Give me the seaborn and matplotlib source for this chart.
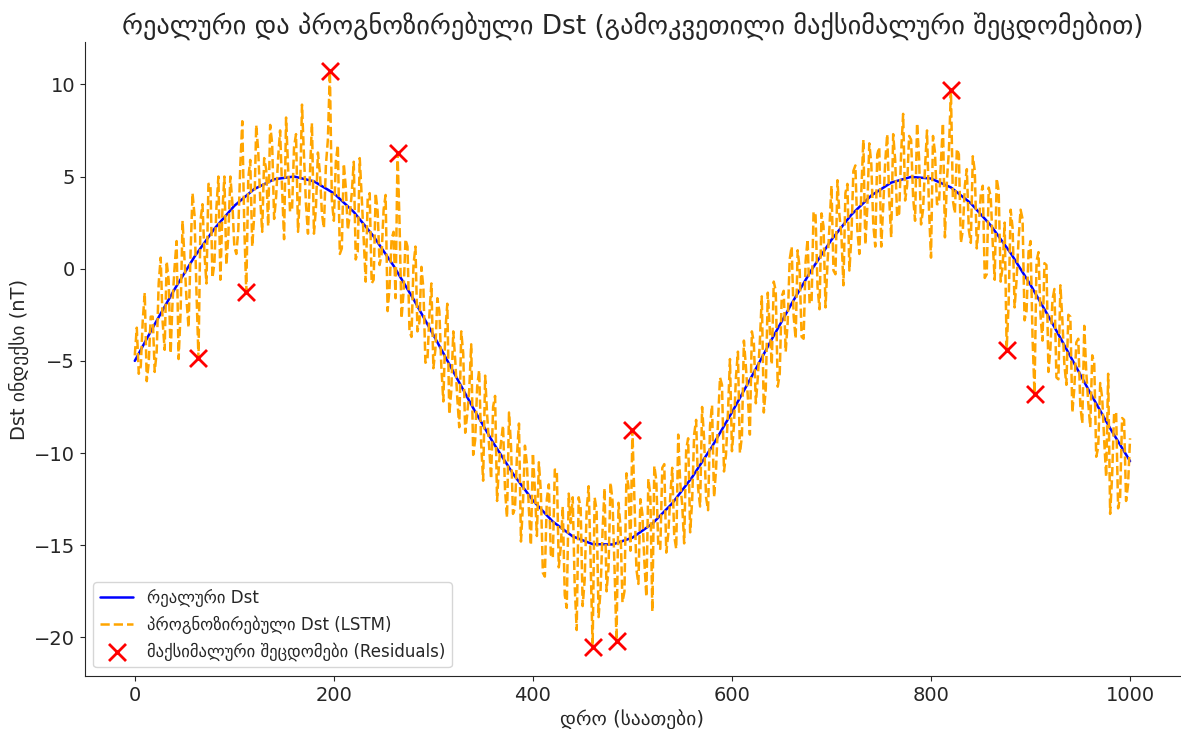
import numpy as np
import pandas as pd
import matplotlib.pyplot as plt
import seaborn as sns

# real Dst, read every 20 hours
hours_real = np.arange(0, 1001, 20)
dst_real = [-5.0, -3.01, -1.11, 0.65, 2.17, 3.41, 4.32, 4.85, 5.0, 4.74,
            4.09, 3.08, 1.75, 0.16, -1.65, -3.59, -5.58, -7.56, -9.43, -11.12,
            -12.57, -13.72, -14.52, -14.94, -14.96, -14.59, -13.83, -12.73, -11.31, -9.65,
            -7.79, -5.83, -3.83, -1.89, -0.06, 1.57, 2.93, 3.97, 4.67, 4.98,
            4.89, 4.41, 3.55, 2.35, 0.85, -0.88, -2.77, -4.75, -6.74, -8.66,
            -10.44]

# LSTM prediction, read every 2 hours (one row = 20 hours)
hours_pred = np.arange(0, 1001, 2)
dst_pred = [
    -4.7, -3.2, -5.7, -5.3, -2.8, -1.3, -6.1, -5.1, -2.6, -2.6,
    -5.6, -4.5, -0.8, 0.6, -2.9, -4.4, 0.4, -0.6, -4.6, -1.7,
    0.1, 1.5, -4.9, -2.4, 2.6, 0.5, -1.7, -3.2, 0.8, 4.1,
    2.9, -1.3, -4.87, 2.6, 3.5, 0.8, -0.8, 4.6, 4.6, -0.5,
    0.3, 3.3, 5.0, -0.6, 3.1, 5.0, 0.2, 1.8, 5.0, 3.6,
    1.2, 0.8, 2.1, 5.6, 8.0, 2.3, -1.25, 4.9, 5.9, 1.2,
    2.9, 7.8, 6.4, 3.8, 2.0, 6.0, 5.4, 2.3, 7.8, 6.8,
    2.7, 3.9, 6.0, 7.5, 4.3, 1.6, 8.2, 5.5, 3.1, 3.2,
    6.6, 7.3, 2.0, 4.1, 8.9, 6.1, 3.5, 1.9, 5.2, 7.9,
    1.9, 3.3, 6.3, 5.2, 3.0, 2.2, 5.6, 7.0, 10.72, 3.7,
    2.6, 5.8, 6.7, 0.8, 1.1, 5.7, 4.4, 2.1, 2.9, 4.1,
    5.8, 0.5, 0.9, 6.0, 3.9, 1.6, -0.7, 3.8, 4.1, -0.8,
    -0.6, 4.1, 3.1, 0.2, 0.8, 3.2, 4.0, -2.3, -1.0, 1.6,
    2.0, -1.6, 6.28, 2.5, -2.7, -1.3, 1.6, 1.2, -3.4, -3.7,
    0.2, 1.2, -3.4, -2.9, 0.1, -1.1, -5.1, -5.0, -2.5, -0.8,
    -5.4, -4.4, -1.6, -2.3, -5.3, -7.2, -3.4, -1.9, -7.9, -6.6,
    -3.4, -5.0, -7.0, -8.6, -3.4, -4.6, -8.9, -7.9, -6.6, -4.1,
    -10.1, -9.3, -6.4, -5.5, -9.5, -11.5, -5.8, -7.9, -9.6, -11.4,
    -7.5, -6.9, -12.6, -10.5, -9.4, -8.5, -12.0, -13.5, -7.8, -9.6,
    -13.3, -13.0, -10.1, -8.4, -14.8, -12.8, -9.6, -10.6, -13.1, -15.0,
    -10.0, -12.0, -14.5, -10.5, -12.1, -16.5, -16.7, -12.5, -11.7, -15.5,
    -15.7, -10.9, -10.9, -16.2, -15.1, -12.9, -17.7, -18.4, -12.2, -13.8,
    -12.4, -17.2, -19.6, -12.4, -13.0, -18.3, -16.9, -13.1, -11.8, -15.9,
    -20.52, -12.4, -13.1, -18.9, -17.4, -14.2, -11.9, -17.5, -16.2, -11.6,
    -12.6, -16.2, -20.2, -12.7, -14.0, -18.1, -17.5, -11.1, -11.8, -15.3,
    -8.77, -12.5, -16.3, -17.1, -12.5, -13.3, -15.9, -17.8, -11.4, -12.3,
    -18.6, -10.7, -11.5, -15.1, -15.2, -10.8, -10.6, -15.4, -14.4, -12.4,
    -10.8, -14.5, -15.2, -9.0, -11.6, -12.8, -14.9, -9.8, -9.2, -14.3,
    -12.6, -9.0, -8.2, -11.9, -12.9, -7.5, -9.2, -12.4, -13.1, -8.5,
    -7.4, -12.4, -10.9, -8.3, -5.9, -6.3, -11.0, -10.1, -7.8, -4.9,
    -9.9, -8.5, -5.9, -4.5, -10.0, -9.1, -3.9, -5.3, -7.0, -9.0,
    -3.4, -4.0, -7.3, -5.9, -4.0, -1.5, -7.8, -6.5, -1.3, -3.2,
    -5.2, -0.7, -1.2, -6.4, -5.7, -1.5, -1.2, -4.5, -2.9, 0.5,
    1.2, -2.6, -3.8, 1.0, 0.0, -3.7, -3.8, 0.4, 1.6, -1.9,
    -1.8, 3.1, 2.9, -1.0, -2.2, 3.0, 2.3, -2.1, 0.3, 2.3,
    4.5, -0.1, -0.3, 4.8, 2.9, 1.8, -0.9, 4.1, 4.6, -0.1,
    1.7, 5.3, 5.6, 2.1, 0.8, 4.2, 7.0, 1.3, 3.3, 6.8,
    5.7, 2.4, 1.2, 6.2, 6.6, 1.2, 3.4, 5.8, 7.3, 3.8,
    1.7, 7.3, 5.9, 2.8, 3.0, 6.3, 8.4, 3.7, 4.5, 7.2,
    7.0, 3.9, 2.6, 7.9, 6.0, 2.4, 3.2, 5.5, 7.5, 3.2,
    0.6, 7.2, 6.3, 3.5, 3.5, 5.8, 7.9, 1.7, 4.8, 6.4,
    9.69, 3.7, 3.0, 6.5, 6.2, 1.4, 2.1, 4.5, 5.4, 2.1,
    1.4, 6.1, 5.3, 1.1, 2.3, 4.0, 4.5, -0.5, -0.3, 4.4,
    3.9, 1.4, -0.6, 4.9, 4.2, -0.7, 0.1, 2.5, -4.39, -1.9,
    3.2, 2.2, -2.1, -0.6, 1.6, 3.2, 2.7, -2.8, -2.3, 0.9,
    1.5, -3.7, -6.77, 0.4, 0.9, -2.5, -3.9, 0.3, 0.2, -5.6,
    -4.3, -1.7, -1.1, -5.9, -6.0, -0.9, -2.8, -5.2, -6.3, -2.5,
    -2.6, -7.8, -6.5, -4.0, -3.8, -7.4, -8.4, -3.1, -5.6, -7.3,
    -8.6, -4.7, -5.1, -10.2, -9.7, -6.2, -7.0, -9.3, -11.3, -5.7,
    -13.3, -11.2, -7.8, -7.8, -13.0, -12.4, -8.1, -8.2, -12.6, -11.7,
    -9.2]

# largest residuals
err_hours = [64, 112, 196, 264, 460, 484, 500, 820, 876, 904]
err_values = [-4.87, -1.25, 10.72, 6.28, -20.52, -20.2, -8.77, 9.69, -4.39, -6.77]

df_real = pd.DataFrame({'hour': hours_real, 'dst': dst_real})
df_pred = pd.DataFrame({'hour': hours_pred, 'dst': dst_pred})
df_err = pd.DataFrame({'hour': err_hours, 'dst': err_values})

sns.set_style('ticks')
plt.rcParams['font.family'] = ['DejaVu Sans']

fig = plt.figure(figsize=(11.81, 7.29), dpi=100)
ax = fig.add_axes([0.072, 0.073, 0.927, 0.869])

sns.lineplot(data=df_real, x='hour', y='dst', color='blue', linewidth=1.8,
             label='რეალური Dst', ax=ax)
sns.lineplot(data=df_pred, x='hour', y='dst', color='orange', linewidth=1.8,
             linestyle='--', label='პროგნოზირებული Dst (LSTM)', ax=ax)
sns.scatterplot(data=df_err, x='hour', y='dst', color='red', marker='x', s=150,
                linewidth=2, label='მაქსიმალური შეცდომები (Residuals)', ax=ax, zorder=3)

ax.set_title('რეალური და პროგნოზირებული Dst (გამოკვეთილი მაქსიმალური შეცდომებით)', fontsize=19)
ax.set_xlabel('დრო (საათები)', fontsize=14)
ax.set_ylabel('Dst ინდექსი (nT)', fontsize=14)
ax.tick_params(labelsize=14)
ax.legend(loc='lower left', fontsize=12)
sns.despine(ax=ax)

fig.savefig('out.png', dpi=100)
